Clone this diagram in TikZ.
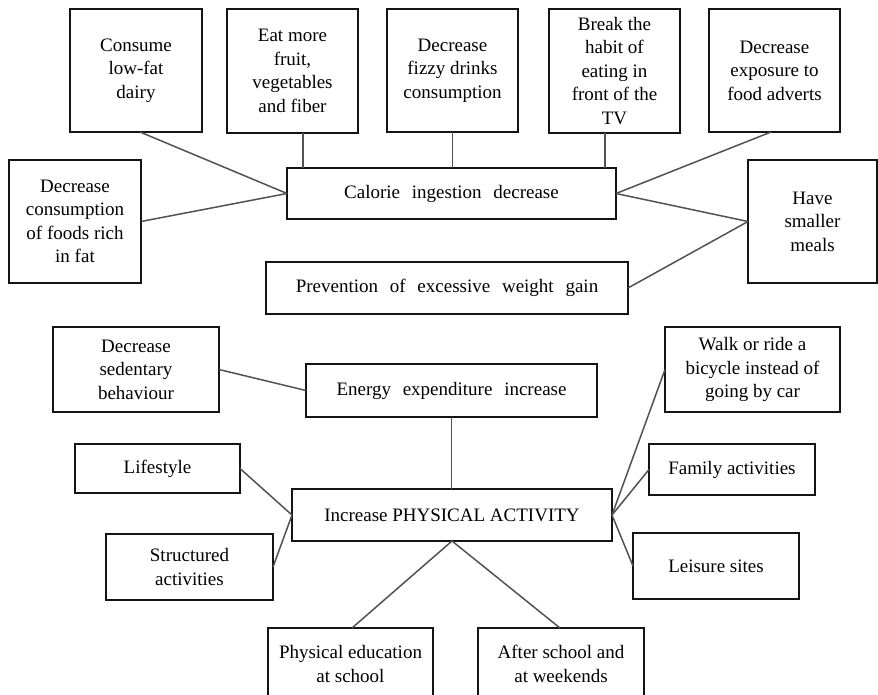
\documentclass[tikz,border=0pt]{standalone}
\usepackage{fontspec}
\setmainfont{Liberation Serif}
\begin{document}
\begin{tikzpicture}[x=1pt,y=-1pt,
  box/.style={draw=black!92, line width=1.7pt, inner sep=0pt, outer sep=0pt,
    align=center, font=\fontsize{19}{23.5}\selectfont},
  wide/.style={box, execute at begin node={\spaceskip=0.62em plus 0.1em\relax}},
  link/.style={draw=black!68, line width=1.5pt}]
\clip (0,0) rectangle (878,694);
\fill[white] (0,0) rectangle (878,694);

% calorie intake branch
\node[box, minimum width=132pt, minimum height=123pt] (cons)  at (136,70.5)   {Consume\\low-fat\\dairy};
\node[box, minimum width=131pt, minimum height=124pt] (eat)   at (292.5,71)   {Eat more\\fruit,\\vegetables\\and fiber};
\node[box, minimum width=131pt, minimum height=123pt] (fizzy) at (452.5,70.5) {Decrease\\fizzy drinks\\consumption};
\node[box, minimum width=131pt, minimum height=124pt] (brk)   at (614.5,71)   {Break the\\habit of\\eating in\\front of the\\TV};
\node[box, minimum width=131pt, minimum height=123pt] (expo)  at (774.5,70.5) {Decrease\\exposure to\\food adverts};
\node[box, minimum width=132pt, minimum height=123pt] (fat)   at (75,221.5)   {Decrease\\consumption\\of foods rich\\in fat};
\node[wide, minimum width=329pt, minimum height=51pt] (cal)   at (451.5,193.5) {Calorie ingestion decrease};
\node[box, minimum width=129pt, minimum height=123pt] (meals) at (812.5,221.5) {Have\\smaller\\meals};
\node[wide, minimum width=362pt, minimum height=52pt] (prev)  at (447,288)    {Prevention of excessive weight gain};

% energy expenditure branch
\node[box, minimum width=166pt, minimum height=85pt] (sed)    at (136,369.5)  {Decrease\\sedentary\\behaviour};
\node[wide, minimum width=291pt, minimum height=53pt] (energy) at (451.5,390.5) {Energy expenditure increase};
\node[box, minimum width=175pt, minimum height=85pt] (walk)   at (752.5,369.5) {Walk or ride a\\bicycle instead of\\going by car};
\node[box, minimum width=165pt, minimum height=49pt] (life)   at (157.5,468.5) {Lifestyle};
\node[box, minimum width=166pt, minimum height=51pt] (fam)    at (732,469.5)  {Family activities};
\node[box, minimum width=320pt, minimum height=52pt] (phys)   at (452,515)    {Increase PHYSICAL ACTIVITY};
\node[box, minimum width=167pt, minimum height=66pt] (struct) at (189.5,567)  {Structured\\activities};
\node[box, minimum width=166pt, minimum height=66pt] (leis)   at (716,566)    {Leisure sites};
\node[box, minimum width=165pt, minimum height=72pt] (pe)     at (350.5,664)  {Physical education\\at school};
\node[box, minimum width=166pt, minimum height=72pt] (after)  at (561,664)    {After school and\\at weekends};

% connectors
\draw[link] ([xshift=4pt]cons.south) -- (cal.west);
\draw[link] (fat.east) -- (cal.west);
\draw[link] ([xshift=10.5pt]eat.south) -- ([xshift=10.5pt]eat.south |- cal.north);
\draw[link] (fizzy.south) -- (fizzy.south |- cal.north);
\draw[link] ([xshift=-9.5pt]brk.south) -- ([xshift=-9.5pt]brk.south |- cal.north);
\draw[link] ([xshift=-3.5pt]expo.south) -- (cal.east);
\draw[link] (cal.east) -- (meals.west);
\draw[link] (prev.east) -- (meals.west);

\draw[link] (sed.east) -- (energy.west);
\draw[link] (energy.south) -- (energy.south |- phys.north);
\draw[link] (life.east) -- (phys.west);
\draw[link] (struct.east) -- (phys.west);
\draw[link] (phys.east) -- (walk.west);
\draw[link] (phys.east) -- (fam.west);
\draw[link] (phys.east) -- (leis.west);
\draw[link] (phys.south) -- ([xshift=1.5pt]pe.north);
\draw[link] (phys.south) -- ([xshift=-1pt]after.north);
\end{tikzpicture}
\end{document}
